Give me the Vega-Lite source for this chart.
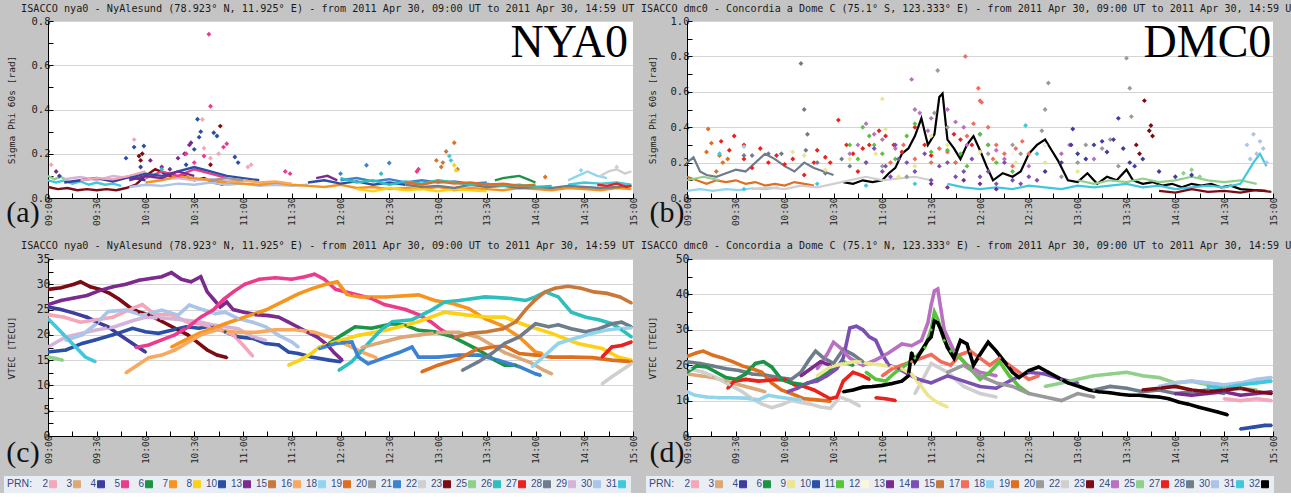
{
"$schema":"https://vega.github.io/schema/vega-lite/v6.json",
"background":"#c4c4c4",
"padding":{"left":4,"top":3,"right":0,"bottom":0},
"config":{
"view":{"fill":"white","stroke":null},
"axis":{"domainColor":"#000","tickColor":"#000","labelFont":"DejaVu Sans Mono","labelColor":"#222","labelFontSize":10.5,"labelOverlap":false,"titleFont":"DejaVu Sans Mono","titleFontWeight":"normal","titleColor":"#222","titleFontSize":9.5,"gridColor":"#d4d4d4"},
"title":{"anchor":"start","font":"DejaVu Sans Mono","fontWeight":"normal","color":"#1a1a1a","offset":2,"frame":"group"},
"legend":{"labelFont":"Liberation Sans","labelFontSize":10,"labelColor":"#3a4a80","titleFont":"Liberation Sans","titleFontSize":10.5,"titleFontWeight":"normal","titleColor":"#3a4a80","symbolType":"square","symbolSize":49,"columnPadding":2,"labelOffset":2,"fillColor":"#e9eef4","padding":3,"titlePadding":4}
},
"datasets":{
"aL":[
{"s":23,"t":540,"v":0.05},{"s":23,"t":546,"v":0.04},{"s":23,"t":552,"v":0.045},{"s":23,"t":558,"v":0.035},{"s":23,"t":564,"v":0.04},{"s":23,"t":570,"v":0.035},{"s":23,"t":576,"v":0.04},{"s":23,"t":582,"v":0.035},{"s":23,"t":588,"v":0.045},{"s":23,"t":594,"v":0.06},{"s":23,"t":600,"v":0.1},{"s":23,"t":606,"v":0.13},{"s":23,"t":612,"v":0.11},{"s":23,"t":618,"v":0.09},{"s":23,"t":624,"v":0.1},{"s":23,"t":630,"v":0.08},{"s":23,"t":636,"v":0.09},{"s":23,"t":642,"v":0.07},{"s":23,"t":648,"v":0.06},
{"s":31,"t":540,"v":0.08},{"s":31,"t":545,"v":0.07},{"s":31,"t":550,"v":0.08},{"s":31,"t":555,"v":0.065},{"s":31,"t":560,"v":0.075},{"s":31,"t":565,"v":0.06},{"s":31,"t":570,"v":0.07},{"s":31,"t":575,"v":0.06},{"s":31,"t":580,"v":0.065},{"s":31,"t":585,"v":0.055},
{"s":31,"g":2,"t":860,"v":0.06},{"s":31,"g":2,"t":870,"v":0.07},{"s":31,"g":2,"t":880,"v":0.065},{"s":31,"g":2,"t":890,"v":0.07},{"s":31,"g":2,"t":899,"v":0.06},
{"s":25,"t":540,"v":0.1},{"s":25,"t":544,"v":0.085},{"s":25,"t":548,"v":0.095},{"s":25,"t":552,"v":0.08},
{"s":29,"t":550,"v":0.085},{"s":29,"t":560,"v":0.095},{"s":29,"t":570,"v":0.08},{"s":29,"t":580,"v":0.1},{"s":29,"t":590,"v":0.09},{"s":29,"t":600,"v":0.1},{"s":29,"t":610,"v":0.085},{"s":29,"t":620,"v":0.09},{"s":29,"t":630,"v":0.08},{"s":29,"t":640,"v":0.085},{"s":29,"t":650,"v":0.075},{"s":29,"t":660,"v":0.08},
{"s":4,"t":550,"v":0.07},{"s":4,"t":560,"v":0.08},{"s":4,"t":570,"v":0.09},{"s":4,"t":580,"v":0.075},{"s":4,"t":590,"v":0.095},{"s":4,"t":600,"v":0.08},
{"s":2,"t":560,"v":0.08},{"s":2,"t":570,"v":0.09},{"s":2,"t":580,"v":0.085},{"s":2,"t":590,"v":0.1},{"s":2,"t":600,"v":0.12},
{"s":30,"t":590,"v":0.05},{"s":30,"t":600,"v":0.06},{"s":30,"t":610,"v":0.055},{"s":30,"t":620,"v":0.065},{"s":30,"t":630,"v":0.06},{"s":30,"t":640,"v":0.07},{"s":30,"t":650,"v":0.06},{"s":30,"t":660,"v":0.065},{"s":30,"t":670,"v":0.055},{"s":30,"t":680,"v":0.06},{"s":30,"t":690,"v":0.055},{"s":30,"t":700,"v":0.06},
{"s":7,"t":600,"v":0.07},{"s":7,"t":610,"v":0.08},{"s":7,"t":620,"v":0.1},{"s":7,"t":630,"v":0.09},{"s":7,"t":640,"v":0.08},{"s":7,"t":650,"v":0.07},{"s":7,"t":660,"v":0.065},{"s":7,"t":670,"v":0.06},{"s":7,"t":680,"v":0.07},{"s":7,"t":690,"v":0.06},{"s":7,"t":700,"v":0.055},{"s":7,"t":710,"v":0.05},{"s":7,"t":720,"v":0.06},{"s":7,"t":730,"v":0.045},{"s":7,"t":740,"v":0.05},{"s":7,"t":750,"v":0.04},{"s":7,"t":760,"v":0.045},{"s":7,"t":770,"v":0.04},{"s":7,"t":780,"v":0.05},{"s":7,"t":790,"v":0.035},{"s":7,"t":800,"v":0.045},{"s":7,"t":810,"v":0.04},{"s":7,"t":820,"v":0.035},{"s":7,"t":830,"v":0.045},{"s":7,"t":840,"v":0.04},{"s":7,"t":850,"v":0.035},{"s":7,"t":860,"v":0.045},{"s":7,"t":870,"v":0.04},{"s":7,"t":880,"v":0.035},{"s":7,"t":890,"v":0.045},{"s":7,"t":899,"v":0.04},
{"s":5,"t":600,"v":0.09},{"s":5,"t":610,"v":0.12},{"s":5,"t":620,"v":0.1},{"s":5,"t":630,"v":0.13},{"s":5,"t":640,"v":0.11},{"s":5,"t":650,"v":0.09},
{"s":10,"t":590,"v":0.09},{"s":10,"t":600,"v":0.11},{"s":10,"t":610,"v":0.1},{"s":10,"t":620,"v":0.12},{"s":10,"t":630,"v":0.14},{"s":10,"t":640,"v":0.12},{"s":10,"t":650,"v":0.1},{"s":10,"t":660,"v":0.09},{"s":10,"t":670,"v":0.08},
{"s":10,"g":2,"t":700,"v":0.07},{"s":10,"g":2,"t":710,"v":0.08},{"s":10,"g":2,"t":720,"v":0.065},{"s":10,"g":2,"t":730,"v":0.075},{"s":10,"g":2,"t":740,"v":0.06},{"s":10,"g":2,"t":750,"v":0.07},{"s":10,"g":2,"t":760,"v":0.06},
{"s":13,"t":590,"v":0.08},{"s":13,"t":600,"v":0.1},{"s":13,"t":610,"v":0.09},{"s":13,"t":620,"v":0.12},{"s":13,"t":630,"v":0.1},
{"s":13,"g":2,"t":705,"v":0.09},{"s":13,"g":2,"t":712,"v":0.1},{"s":13,"g":2,"t":718,"v":0.08},
{"s":16,"t":650,"v":0.07},{"s":16,"t":660,"v":0.08},{"s":16,"t":670,"v":0.07},{"s":16,"t":680,"v":0.075},{"s":16,"t":690,"v":0.065},
{"s":20,"t":640,"v":0.08},{"s":20,"t":650,"v":0.09},{"s":20,"t":660,"v":0.08},
{"s":21,"t":720,"v":0.08},{"s":21,"t":730,"v":0.09},{"s":21,"t":740,"v":0.075},{"s":21,"t":750,"v":0.085},{"s":21,"t":760,"v":0.07},{"s":21,"t":770,"v":0.08},{"s":21,"t":780,"v":0.07},{"s":21,"t":790,"v":0.075},{"s":21,"t":800,"v":0.065},{"s":21,"t":810,"v":0.07},
{"s":8,"t":730,"v":0.04},{"s":8,"t":740,"v":0.03},{"s":8,"t":750,"v":0.045},{"s":8,"t":760,"v":0.035},{"s":8,"t":770,"v":0.04},{"s":8,"t":780,"v":0.03},{"s":8,"t":790,"v":0.04},{"s":8,"t":800,"v":0.035},{"s":8,"t":810,"v":0.03},
{"s":28,"t":760,"v":0.06},{"s":28,"t":770,"v":0.05},{"s":28,"t":780,"v":0.055},{"s":28,"t":790,"v":0.045},{"s":28,"t":800,"v":0.06},{"s":28,"t":810,"v":0.05},{"s":28,"t":820,"v":0.055},{"s":28,"t":830,"v":0.045},{"s":28,"t":840,"v":0.05},{"s":28,"t":850,"v":0.045},{"s":28,"t":860,"v":0.055},{"s":28,"t":870,"v":0.05},{"s":28,"t":880,"v":0.045},{"s":28,"t":890,"v":0.05},{"s":28,"t":899,"v":0.055},
{"s":26,"t":720,"v":0.09},{"s":26,"t":730,"v":0.07},{"s":26,"t":740,"v":0.08},{"s":26,"t":750,"v":0.06},{"s":26,"t":760,"v":0.075},{"s":26,"t":770,"v":0.065},{"s":26,"t":780,"v":0.08},{"s":26,"t":790,"v":0.07},{"s":26,"t":800,"v":0.06},{"s":26,"t":810,"v":0.065},{"s":26,"t":820,"v":0.055},{"s":26,"t":830,"v":0.06},{"s":26,"t":840,"v":0.05},{"s":26,"t":850,"v":0.055},
{"s":19,"t":760,"v":0.07},{"s":19,"t":770,"v":0.06},{"s":19,"t":780,"v":0.075},{"s":19,"t":790,"v":0.065},{"s":19,"t":800,"v":0.07},{"s":19,"t":810,"v":0.06},{"s":19,"t":820,"v":0.065},{"s":19,"t":830,"v":0.055},{"s":19,"t":840,"v":0.06},
{"s":6,"t":815,"v":0.08},{"s":6,"t":820,"v":0.09},{"s":6,"t":825,"v":0.095},{"s":6,"t":830,"v":0.1},{"s":6,"t":835,"v":0.085},{"s":6,"t":840,"v":0.07},
{"s":18,"t":860,"v":0.08},{"s":18,"t":866,"v":0.1},{"s":18,"t":872,"v":0.12},{"s":18,"t":878,"v":0.1},{"s":18,"t":884,"v":0.09},
{"s":22,"t":880,"v":0.1},{"s":22,"t":885,"v":0.12},{"s":22,"t":890,"v":0.13},{"s":22,"t":895,"v":0.11},{"s":22,"t":899,"v":0.12},
{"s":27,"t":878,"v":0.06},{"s":27,"t":884,"v":0.055},{"s":27,"t":890,"v":0.065},{"s":27,"t":896,"v":0.05},{"s":27,"t":899,"v":0.055}
],
"aP":[
{"s":5,"t":639,"v":0.74},{"s":5,"t":640,"v":0.415},{"s":10,"t":632,"v":0.356},{"s":2,"t":635,"v":0.355},{"s":10,"t":634,"v":0.3},{"s":10,"t":633,"v":0.275},{"s":10,"t":642,"v":0.295},{"s":10,"t":644,"v":0.28},{"s":23,"t":646,"v":0.325},{"s":13,"t":628,"v":0.25},{"s":13,"t":627,"v":0.24},{"s":13,"t":624,"v":0.2},{"s":5,"t":650,"v":0.245},{"s":5,"t":648,"v":0.23},{"s":2,"t":636,"v":0.225},{"s":10,"t":630,"v":0.22},{"s":13,"t":620,"v":0.18},{"s":2,"t":593,"v":0.264},{"s":10,"t":593,"v":0.23},{"s":10,"t":599,"v":0.235},{"s":10,"t":588,"v":0.18},{"s":23,"t":598,"v":0.2},{"s":23,"t":596,"v":0.19},{"s":23,"t":597,"v":0.17},{"s":2,"t":665,"v":0.15},{"s":2,"t":663,"v":0.14},{"s":5,"t":686,"v":0.12},{"s":5,"t":689,"v":0.11},{"s":10,"t":655,"v":0.185},{"s":10,"t":657,"v":0.16},{"s":13,"t":603,"v":0.17},{"s":5,"t":625,"v":0.2},{"s":5,"t":630,"v":0.16},{"s":2,"t":640,"v":0.18},{"s":23,"t":640,"v":0.15},{"s":4,"t":597,"v":0.14},{"s":13,"t":610,"v":0.14},{"s":2,"t":542,"v":0.15},{"s":13,"t":615,"v":0.13},{"s":5,"t":636,"v":0.19},{"s":2,"t":645,"v":0.2},{"s":10,"t":625,"v":0.15},
{"s":15,"t":790,"v":0.25},{"s":15,"t":785,"v":0.21},{"s":15,"t":779,"v":0.17},{"s":15,"t":783,"v":0.16},{"s":15,"t":782,"v":0.14},{"s":15,"t":792,"v":0.13},{"s":31,"t":787,"v":0.19},{"s":31,"t":788,"v":0.17},{"s":8,"t":790,"v":0.148},{"s":8,"t":791,"v":0.125},{"s":21,"t":736,"v":0.148},{"s":21,"t":750,"v":0.158},{"s":5,"t":768,"v":0.13},{"s":5,"t":767,"v":0.12},{"s":19,"t":846,"v":0.095},{"s":26,"t":610,"v":0.13},{"s":21,"t":720,"v":0.11},{"s":22,"t":890,"v":0.14},{"s":18,"t":868,"v":0.125},{"s":26,"t":745,"v":0.11},{"s":13,"t":545,"v":0.12},{"s":4,"t":547,"v":0.1}
],
"bL":[
{"s":32,"t":636,"v":0.09},{"s":32,"t":642,"v":0.08},{"s":32,"t":648,"v":0.1},{"s":32,"t":654,"v":0.09},{"s":32,"t":660,"v":0.1},{"s":32,"t":664,"v":0.14},{"s":32,"t":668,"v":0.17},{"s":32,"t":672,"v":0.25},{"s":32,"t":676,"v":0.28},{"s":32,"t":680,"v":0.35},{"s":32,"t":684,"v":0.45},{"s":32,"t":688,"v":0.3},{"s":32,"t":692,"v":0.36},{"s":32,"t":695,"v":0.57},{"s":32,"t":697,"v":0.59},{"s":32,"t":700,"v":0.33},{"s":32,"t":704,"v":0.28},{"s":32,"t":708,"v":0.22},{"s":32,"t":712,"v":0.3},{"s":32,"t":716,"v":0.35},{"s":32,"t":720,"v":0.27},{"s":32,"t":724,"v":0.18},{"s":32,"t":728,"v":0.1},{"s":32,"t":734,"v":0.14},{"s":32,"t":740,"v":0.12},{"s":32,"t":745,"v":0.15},{"s":32,"t":750,"v":0.25},{"s":32,"t":755,"v":0.3},{"s":32,"t":760,"v":0.33},{"s":32,"t":764,"v":0.27},{"s":32,"t":768,"v":0.21},{"s":32,"t":774,"v":0.1},{"s":32,"t":780,"v":0.09},{"s":32,"t":786,"v":0.14},{"s":32,"t":792,"v":0.08},{"s":32,"t":798,"v":0.12},{"s":32,"t":804,"v":0.1},{"s":32,"t":810,"v":0.16},{"s":32,"t":814,"v":0.1},{"s":32,"t":820,"v":0.08},{"s":32,"t":826,"v":0.09},{"s":32,"t":832,"v":0.07},{"s":32,"t":838,"v":0.08},{"s":32,"t":844,"v":0.06},{"s":32,"t":850,"v":0.08},{"s":32,"t":856,"v":0.07},{"s":32,"t":862,"v":0.08},{"s":32,"t":868,"v":0.06},{"s":32,"t":874,"v":0.07},{"s":32,"t":880,"v":0.05},{"s":32,"t":888,"v":0.045},{"s":32,"t":896,"v":0.04},
{"s":18,"t":540,"v":0.04},{"s":18,"t":548,"v":0.05},{"s":18,"t":556,"v":0.04},{"s":18,"t":564,"v":0.05},{"s":18,"t":572,"v":0.045},{"s":18,"t":580,"v":0.055},{"s":18,"t":588,"v":0.05},{"s":18,"t":596,"v":0.06},
{"s":19,"t":540,"v":0.12},{"s":19,"t":546,"v":0.1},{"s":19,"t":552,"v":0.08},{"s":19,"t":558,"v":0.1},{"s":19,"t":564,"v":0.09},{"s":19,"t":570,"v":0.1},{"s":19,"t":576,"v":0.08},{"s":19,"t":582,"v":0.09},{"s":19,"t":588,"v":0.07},{"s":19,"t":594,"v":0.08},{"s":19,"t":600,"v":0.07},{"s":19,"t":606,"v":0.09},{"s":19,"t":612,"v":0.08},{"s":19,"t":618,"v":0.07},
{"s":28,"t":540,"v":0.2},{"s":28,"t":544,"v":0.23},{"s":28,"t":548,"v":0.15},{"s":28,"t":552,"v":0.13},{"s":28,"t":558,"v":0.12},{"s":28,"t":564,"v":0.14},{"s":28,"t":570,"v":0.16},{"s":28,"t":576,"v":0.15},{"s":28,"t":582,"v":0.2},{"s":28,"t":588,"v":0.25},{"s":28,"t":594,"v":0.22},{"s":28,"t":600,"v":0.18},{"s":28,"t":606,"v":0.15},{"s":28,"t":612,"v":0.2},{"s":28,"t":618,"v":0.17},{"s":28,"t":624,"v":0.15},{"s":28,"t":630,"v":0.13},
{"s":22,"t":580,"v":0.05},{"s":22,"t":590,"v":0.06},{"s":22,"t":600,"v":0.05},{"s":22,"t":610,"v":0.07},{"s":22,"t":620,"v":0.06},{"s":22,"t":630,"v":0.08},{"s":22,"t":640,"v":0.1},{"s":22,"t":650,"v":0.12},{"s":22,"t":660,"v":0.1},{"s":22,"t":670,"v":0.11},{"s":22,"t":680,"v":0.12},{"s":22,"t":690,"v":0.1},
{"s":25,"t":540,"v":0.1},{"s":25,"t":550,"v":0.12},{"s":25,"t":560,"v":0.1},
{"s":25,"g":2,"t":780,"v":0.1},{"s":25,"g":2,"t":790,"v":0.08},{"s":25,"g":2,"t":800,"v":0.1},{"s":25,"g":2,"t":810,"v":0.09},{"s":25,"g":2,"t":820,"v":0.11},{"s":25,"g":2,"t":830,"v":0.09},{"s":25,"g":2,"t":840,"v":0.1},{"s":25,"g":2,"t":850,"v":0.12},{"s":25,"g":2,"t":860,"v":0.1},{"s":25,"g":2,"t":870,"v":0.09},{"s":25,"g":2,"t":880,"v":0.1},{"s":25,"g":2,"t":890,"v":0.08},
{"s":31,"t":700,"v":0.08},{"s":31,"t":710,"v":0.06},{"s":31,"t":720,"v":0.05},{"s":31,"t":730,"v":0.06},{"s":31,"t":740,"v":0.05},{"s":31,"t":750,"v":0.07},{"s":31,"t":760,"v":0.06},{"s":31,"t":770,"v":0.05},{"s":31,"t":780,"v":0.07},{"s":31,"t":790,"v":0.06},{"s":31,"t":800,"v":0.07},{"s":31,"t":810,"v":0.08},{"s":31,"t":820,"v":0.06},{"s":31,"t":830,"v":0.07},{"s":31,"t":840,"v":0.05},{"s":31,"t":850,"v":0.06},{"s":31,"t":860,"v":0.07},{"s":31,"t":870,"v":0.06},{"s":31,"t":880,"v":0.08},{"s":31,"t":888,"v":0.2},{"s":31,"t":892,"v":0.25},{"s":31,"t":896,"v":0.18},
{"s":23,"t":830,"v":0.04},{"s":23,"t":840,"v":0.03},{"s":23,"t":850,"v":0.05},{"s":23,"t":860,"v":0.035},{"s":23,"t":870,"v":0.04},{"s":23,"t":880,"v":0.03},{"s":23,"t":890,"v":0.045},{"s":23,"t":899,"v":0.035}
],
"bP":[
{"s":27,"t":561,"v":0.32},{"s":27,"t":569,"v":0.35},{"s":27,"t":566,"v":0.27},{"s":27,"t":575,"v":0.22},{"s":27,"t":580,"v":0.17},{"s":27,"t":590,"v":0.2},{"s":27,"t":595,"v":0.24},{"s":27,"t":600,"v":0.19},{"s":27,"t":605,"v":0.22},{"s":27,"t":612,"v":0.13},{"s":27,"t":618,"v":0.2},{"s":27,"t":625,"v":0.23},{"s":27,"t":633,"v":0.44},{"s":27,"t":638,"v":0.3},{"s":27,"t":642,"v":0.25},{"s":27,"t":648,"v":0.28},{"s":27,"t":652,"v":0.3},{"s":27,"t":658,"v":0.38},{"s":27,"t":662,"v":0.35},{"s":27,"t":667,"v":0.3},{"s":27,"t":672,"v":0.26},{"s":27,"t":680,"v":0.4},{"s":27,"t":686,"v":0.3},{"s":27,"t":704,"v":0.36},{"s":27,"t":708,"v":0.33},{"s":27,"t":715,"v":0.3},
{"s":27,"t":575,"v":0.3},{"s":27,"t":585,"v":0.28},{"s":27,"t":620,"v":0.27},{"s":27,"t":628,"v":0.2},{"s":27,"t":645,"v":0.15},{"s":27,"t":690,"v":0.24},
{"s":19,"t":553,"v":0.39},{"s":19,"t":552,"v":0.26},{"s":19,"t":555,"v":0.31},{"s":19,"t":560,"v":0.24},{"s":19,"t":562,"v":0.2},{"s":19,"t":565,"v":0.22},{"s":19,"t":558,"v":0.15},
{"s":28,"t":610,"v":0.76},{"s":28,"t":612,"v":0.5},{"s":28,"t":614,"v":0.36},{"s":28,"t":613,"v":0.27},{"s":28,"t":590,"v":0.25},{"s":28,"t":598,"v":0.25},{"s":28,"t":620,"v":0.2},{"s":28,"t":640,"v":0.18},{"s":28,"t":650,"v":0.2},{"s":28,"t":575,"v":0.24},{"s":28,"t":580,"v":0.24},{"s":28,"t":625,"v":0.14},{"s":28,"t":635,"v":0.22},
{"s":9,"t":660,"v":0.56},{"s":9,"t":662,"v":0.39},{"s":9,"t":605,"v":0.26},{"s":9,"t":612,"v":0.24},{"s":9,"t":650,"v":0.2},{"s":9,"t":656,"v":0.25},{"s":9,"t":670,"v":0.12},{"s":9,"t":690,"v":0.35},{"s":9,"t":700,"v":0.3},{"s":9,"t":742,"v":0.2},{"s":9,"t":625,"v":0.16},{"s":9,"t":640,"v":0.22},{"s":9,"t":680,"v":0.18},{"s":9,"t":760,"v":0.2},{"s":9,"t":780,"v":0.15},{"s":9,"t":720,"v":0.26},
{"s":24,"t":678,"v":0.67},{"s":24,"t":680,"v":0.5},{"s":24,"t":683,"v":0.48},{"s":24,"t":690,"v":0.45},{"s":24,"t":700,"v":0.5},{"s":24,"t":705,"v":0.43},{"s":24,"t":710,"v":0.4},{"s":24,"t":720,"v":0.36},{"s":24,"t":725,"v":0.3},{"s":24,"t":730,"v":0.27},{"s":24,"t":650,"v":0.42},{"s":24,"t":655,"v":0.36},{"s":24,"t":645,"v":0.3},{"s":24,"t":640,"v":0.25},{"s":24,"t":760,"v":0.3},{"s":24,"t":770,"v":0.25},{"s":24,"t":660,"v":0.33},{"s":24,"t":668,"v":0.28},{"s":24,"t":688,"v":0.38},{"s":24,"t":712,"v":0.3},{"s":24,"t":735,"v":0.22},{"s":24,"t":750,"v":0.18},{"s":24,"t":775,"v":0.3},{"s":24,"t":790,"v":0.22},
{"s":20,"t":694,"v":0.72},{"s":20,"t":692,"v":0.48},{"s":20,"t":700,"v":0.4},{"s":20,"t":762,"v":0.65},{"s":20,"t":760,"v":0.5},{"s":20,"t":758,"v":0.38},{"s":20,"t":810,"v":0.79},{"s":20,"t":812,"v":0.62},{"s":20,"t":813,"v":0.46},{"s":20,"t":800,"v":0.33},{"s":20,"t":795,"v":0.28},{"s":20,"t":780,"v":0.2},{"s":20,"t":785,"v":0.3},{"s":20,"t":740,"v":0.3},{"s":20,"t":745,"v":0.25},{"s":20,"t":660,"v":0.18},{"s":20,"t":675,"v":0.12},{"s":20,"t":705,"v":0.2},{"s":20,"t":725,"v":0.25},{"s":20,"t":770,"v":0.12},{"s":20,"t":805,"v":0.18},
{"s":17,"t":711,"v":0.8},{"s":17,"t":719,"v":0.62},{"s":17,"t":720,"v":0.55},{"s":17,"t":721,"v":0.54},{"s":17,"t":716,"v":0.42},{"s":17,"t":712,"v":0.35},{"s":17,"t":725,"v":0.4},{"s":17,"t":730,"v":0.3},{"s":17,"t":735,"v":0.25},{"s":17,"t":740,"v":0.18},{"s":17,"t":746,"v":0.32},{"s":17,"t":750,"v":0.25},{"s":17,"t":700,"v":0.26},{"s":17,"t":690,"v":0.2},{"s":17,"t":680,"v":0.22},{"s":17,"t":665,"v":0.2},{"s":17,"t":673,"v":0.3},{"s":17,"t":695,"v":0.28},{"s":17,"t":705,"v":0.2},{"s":17,"t":728,"v":0.22},{"s":17,"t":742,"v":0.28},
{"s":23,"t":821,"v":0.55},{"s":23,"t":825,"v":0.41},{"s":23,"t":824,"v":0.38},{"s":23,"t":826,"v":0.35},{"s":23,"t":816,"v":0.3},{"s":23,"t":818,"v":0.25},
{"s":4,"t":805,"v":0.45},{"s":4,"t":802,"v":0.33},{"s":4,"t":777,"v":0.39},{"s":4,"t":790,"v":0.3},{"s":4,"t":795,"v":0.32},{"s":4,"t":808,"v":0.28},{"s":4,"t":780,"v":0.25},{"s":4,"t":770,"v":0.2},{"s":4,"t":760,"v":0.15},{"s":4,"t":812,"v":0.2},{"s":4,"t":830,"v":0.15},{"s":4,"t":840,"v":0.12},{"s":4,"t":850,"v":0.13},{"s":4,"t":776,"v":0.3},{"s":4,"t":785,"v":0.22},{"s":4,"t":798,"v":0.26},{"s":4,"t":815,"v":0.18},{"s":4,"t":820,"v":0.22},
{"s":11,"t":648,"v":0.4},{"s":11,"t":652,"v":0.35},{"s":11,"t":640,"v":0.3},{"s":11,"t":660,"v":0.25},{"s":11,"t":675,"v":0.35},{"s":11,"t":680,"v":0.42},{"s":11,"t":700,"v":0.27},{"s":11,"t":708,"v":0.25},{"s":11,"t":720,"v":0.36},{"s":11,"t":725,"v":0.3},{"s":11,"t":730,"v":0.2},{"s":11,"t":645,"v":0.22},{"s":11,"t":655,"v":0.3},{"s":11,"t":668,"v":0.22},{"s":11,"t":690,"v":0.26},{"s":11,"t":712,"v":0.18},{"s":11,"t":740,"v":0.15},
{"s":30,"t":884,"v":0.3},{"s":30,"t":888,"v":0.36},{"s":30,"t":892,"v":0.32},{"s":30,"t":890,"v":0.25},{"s":30,"t":886,"v":0.22},{"s":30,"t":894,"v":0.28},{"s":30,"t":896,"v":0.2},
{"s":14,"t":650,"v":0.2},{"s":14,"t":660,"v":0.15},{"s":14,"t":665,"v":0.12},{"s":14,"t":670,"v":0.22},{"s":14,"t":680,"v":0.15},{"s":14,"t":690,"v":0.1},{"s":14,"t":700,"v":0.2},{"s":14,"t":710,"v":0.15},{"s":14,"t":720,"v":0.12},{"s":14,"t":730,"v":0.08},{"s":14,"t":740,"v":0.1},{"s":14,"t":750,"v":0.12},{"s":14,"t":655,"v":0.28},{"s":14,"t":662,"v":0.18},{"s":14,"t":668,"v":0.3},{"s":14,"t":675,"v":0.2},{"s":14,"t":686,"v":0.25},{"s":14,"t":695,"v":0.18},{"s":14,"t":705,"v":0.12},{"s":14,"t":715,"v":0.22},{"s":14,"t":725,"v":0.15},{"s":14,"t":735,"v":0.2},{"s":14,"t":745,"v":0.08},{"s":14,"t":755,"v":0.1},
{"s":13,"t":700,"v":0.06},{"s":13,"t":710,"v":0.1},{"s":13,"t":720,"v":0.08},{"s":13,"t":730,"v":0.05},{"s":13,"t":690,"v":0.08},
{"s":12,"t":740,"v":0.25},{"s":12,"t":760,"v":0.3},{"s":12,"t":780,"v":0.28},
{"s":31,"t":748,"v":0.41},{"s":31,"t":755,"v":0.25},{"s":31,"t":560,"v":0.25},{"s":31,"t":575,"v":0.05},{"s":31,"t":620,"v":0.08},{"s":31,"t":650,"v":0.07},{"s":31,"t":680,"v":0.08},
{"s":18,"t":575,"v":0.29},
{"s":25,"t":845,"v":0.14},{"s":25,"t":850,"v":0.16},{"s":25,"t":855,"v":0.12}
],
"c":[
{"s":23,"t":540,"v":29},{"s":23,"t":548,"v":29.3},{"s":23,"t":556,"v":30},{"s":23,"t":560,"v":30.5},{"s":23,"t":566,"v":29.5},{"s":23,"t":572,"v":29},{"s":23,"t":578,"v":28.2},{"s":23,"t":584,"v":27},{"s":23,"t":590,"v":25.5},{"s":23,"t":596,"v":24.5},{"s":23,"t":602,"v":24},{"s":23,"t":608,"v":23},{"s":23,"t":614,"v":22},{"s":23,"t":620,"v":21},{"s":23,"t":626,"v":20},{"s":23,"t":632,"v":18.5},{"s":23,"t":638,"v":17},{"s":23,"t":644,"v":16},{"s":23,"t":650,"v":15.5},
{"s":13,"t":540,"v":26},{"s":13,"t":548,"v":26.8},{"s":13,"t":556,"v":27.3},{"s":13,"t":564,"v":27.8},{"s":13,"t":572,"v":28.8},{"s":13,"t":580,"v":29.5},{"s":13,"t":588,"v":30},{"s":13,"t":596,"v":30.8},{"s":13,"t":604,"v":31.2},{"s":13,"t":610,"v":31.5},{"s":13,"t":616,"v":32.3},{"s":13,"t":622,"v":31},{"s":13,"t":628,"v":30.5},{"s":13,"t":634,"v":31.5},{"s":13,"t":638,"v":28.5},{"s":13,"t":642,"v":27},{"s":13,"t":646,"v":25.5},{"s":13,"t":650,"v":26.5},{"s":13,"t":654,"v":25},{"s":13,"t":660,"v":24.5},{"s":13,"t":668,"v":24},{"s":13,"t":676,"v":23.8},{"s":13,"t":682,"v":23.5},{"s":13,"t":688,"v":22.5},{"s":13,"t":694,"v":21.5},{"s":13,"t":700,"v":20.5},{"s":13,"t":706,"v":19.5},{"s":13,"t":712,"v":18},{"s":13,"t":716,"v":16.5},{"s":13,"t":721,"v":15},
{"s":4,"t":540,"v":25.5},{"s":4,"t":548,"v":25},{"s":4,"t":556,"v":24.3},{"s":4,"t":564,"v":23.5},{"s":4,"t":570,"v":22.5},{"s":4,"t":577,"v":21.6},{"s":4,"t":584,"v":20},{"s":4,"t":592,"v":18.3},{"s":4,"t":600,"v":16.6},
{"s":10,"t":540,"v":16.6},{"s":10,"t":551,"v":17},{"s":10,"t":561,"v":18.3},{"s":10,"t":569,"v":19},{"s":10,"t":580,"v":20},{"s":10,"t":592,"v":21.3},{"s":10,"t":600,"v":20.6},{"s":10,"t":608,"v":20.3},{"s":10,"t":616,"v":20.9},{"s":10,"t":625,"v":21.6},{"s":10,"t":633,"v":21.3},{"s":10,"t":641,"v":21.8},{"s":10,"t":649,"v":20.6},{"s":10,"t":657,"v":19.6},{"s":10,"t":666,"v":19.3},{"s":10,"t":674,"v":18.3},{"s":10,"t":682,"v":18},{"s":10,"t":688,"v":16.6},{"s":10,"t":694,"v":16.3},{"s":10,"t":702,"v":15.6},{"s":10,"t":713,"v":15},{"s":10,"t":720,"v":14.7},
{"s":2,"t":540,"v":24},{"s":2,"t":550,"v":23.5},{"s":2,"t":560,"v":22.5},{"s":2,"t":570,"v":23},{"s":2,"t":580,"v":23.5},{"s":2,"t":590,"v":25},{"s":2,"t":598,"v":26},{"s":2,"t":606,"v":24},{"s":2,"t":616,"v":24},{"s":2,"t":626,"v":22.5},{"s":2,"t":636,"v":22},{"s":2,"t":646,"v":21},{"s":2,"t":654,"v":20},{"s":2,"t":660,"v":18},{"s":2,"t":666,"v":15.8},
{"s":29,"t":540,"v":17.6},{"s":29,"t":551,"v":19.6},{"s":29,"t":569,"v":20.9},{"s":29,"t":581,"v":21.6},{"s":29,"t":592,"v":22.8},{"s":29,"t":600,"v":23.5},{"s":29,"t":616,"v":23.2},{"s":29,"t":633,"v":22.6},{"s":29,"t":641,"v":22},{"s":29,"t":657,"v":21.2},{"s":29,"t":666,"v":19.6},{"s":29,"t":674,"v":18.9},
{"s":30,"t":551,"v":18.9},{"s":30,"t":561,"v":20},{"s":30,"t":569,"v":22},{"s":30,"t":577,"v":24.6},{"s":30,"t":588,"v":24.9},{"s":30,"t":598,"v":23.9},{"s":30,"t":610,"v":24.9},{"s":30,"t":620,"v":23.9},{"s":30,"t":627,"v":25.9},{"s":30,"t":633,"v":25.2},{"s":30,"t":643,"v":24.2},{"s":30,"t":649,"v":24.5},{"s":30,"t":657,"v":23.2},{"s":30,"t":666,"v":22.5},{"s":30,"t":674,"v":21.6},{"s":30,"t":682,"v":19.9},{"s":30,"t":690,"v":18.6},{"s":30,"t":694,"v":17.6},
{"s":31,"t":540,"v":23.2},{"s":31,"t":545,"v":21.6},{"s":31,"t":551,"v":19.6},{"s":31,"t":557,"v":17.6},{"s":31,"t":563,"v":15.6},{"s":31,"t":569,"v":14.7},
{"s":25,"t":540,"v":15.6},{"s":25,"t":545,"v":15.3},{"s":25,"t":549,"v":15},
{"s":5,"t":594,"v":17.5},{"s":5,"t":602,"v":18},{"s":5,"t":610,"v":19},{"s":5,"t":618,"v":20},{"s":5,"t":626,"v":21.5},{"s":5,"t":634,"v":23.5},{"s":5,"t":642,"v":25},{"s":5,"t":648,"v":27},{"s":5,"t":654,"v":28.5},{"s":5,"t":661,"v":30},{"s":5,"t":670,"v":31},{"s":5,"t":680,"v":31.3},{"s":5,"t":690,"v":31},{"s":5,"t":698,"v":31.5},{"s":5,"t":704,"v":32},{"s":5,"t":710,"v":31},{"s":5,"t":717,"v":29},{"s":5,"t":727,"v":28.2},{"s":5,"t":739,"v":27.2},{"s":5,"t":747,"v":26},{"s":5,"t":760,"v":25},{"s":5,"t":768,"v":24},{"s":5,"t":776,"v":22.5},{"s":5,"t":782,"v":21},{"s":5,"t":790,"v":19.5},
{"s":7,"t":616,"v":17.6},{"s":7,"t":624,"v":18.9},{"s":7,"t":633,"v":20.3},{"s":7,"t":641,"v":21.2},{"s":7,"t":649,"v":22.2},{"s":7,"t":661,"v":23.5},{"s":7,"t":674,"v":24.9},{"s":7,"t":686,"v":26.8},{"s":7,"t":694,"v":28.1},{"s":7,"t":702,"v":29.1},{"s":7,"t":711,"v":30},{"s":7,"t":718,"v":30.5},{"s":7,"t":724,"v":28},{"s":7,"t":732,"v":27.5},{"s":7,"t":748,"v":27.5},{"s":7,"t":768,"v":27.9},{"s":7,"t":778,"v":26.8},{"s":7,"t":789,"v":26.2},{"s":7,"t":799,"v":25.2},{"s":7,"t":809,"v":23.2},{"s":7,"t":819,"v":21.9},{"s":7,"t":830,"v":19.6},{"s":7,"t":840,"v":16.6},{"s":7,"t":844,"v":16.3},
{"s":16,"t":588,"v":12.5},{"s":16,"t":595,"v":14},{"s":16,"t":602,"v":15.5},{"s":16,"t":610,"v":16},{"s":16,"t":618,"v":17},{"s":16,"t":626,"v":18.5},{"s":16,"t":634,"v":20},{"s":16,"t":644,"v":21},{"s":16,"t":656,"v":20.5},{"s":16,"t":668,"v":20.5},{"s":16,"t":680,"v":21},{"s":16,"t":692,"v":21},{"s":16,"t":704,"v":20.5},{"s":16,"t":714,"v":19.5},{"s":16,"t":724,"v":18},{"s":16,"t":734,"v":16.5},{"s":16,"t":742,"v":15.5},
{"s":6,"t":713,"v":18.3},{"s":6,"t":721,"v":20},{"s":6,"t":729,"v":21.6},{"s":6,"t":739,"v":21.3},{"s":6,"t":752,"v":22.2},{"s":6,"t":760,"v":21.9},{"s":6,"t":768,"v":20.9},{"s":6,"t":778,"v":20.6},{"s":6,"t":789,"v":19.6},{"s":6,"t":797,"v":18.3},{"s":6,"t":805,"v":17},{"s":6,"t":815,"v":15},{"s":6,"t":821,"v":14},{"s":6,"t":828,"v":14},
{"s":8,"t":688,"v":14},{"s":8,"t":695,"v":15},{"s":8,"t":702,"v":16.3},{"s":8,"t":707,"v":17.6},{"s":8,"t":719,"v":18.8},{"s":8,"t":731,"v":19.9},{"s":8,"t":748,"v":20.9},{"s":8,"t":768,"v":22.6},{"s":8,"t":784,"v":24.5},{"s":8,"t":796,"v":24},{"s":8,"t":809,"v":23.5},{"s":8,"t":821,"v":23.5},{"s":8,"t":834,"v":21.9},{"s":8,"t":850,"v":20.3},{"s":8,"t":866,"v":18.3},{"s":8,"t":881,"v":17.3},{"s":8,"t":891,"v":15.6},{"s":8,"t":899,"v":15},
{"s":26,"t":719,"v":13},{"s":26,"t":727,"v":14.7},{"s":26,"t":737,"v":18.3},{"s":26,"t":745,"v":21},{"s":26,"t":752,"v":22.6},{"s":26,"t":764,"v":23},{"s":26,"t":776,"v":24.9},{"s":26,"t":784,"v":26.5},{"s":26,"t":793,"v":26.8},{"s":26,"t":809,"v":27.5},{"s":26,"t":825,"v":27.2},{"s":26,"t":834,"v":26.8},{"s":26,"t":840,"v":27.5},{"s":26,"t":846,"v":28.5},{"s":26,"t":854,"v":27.5},{"s":26,"t":862,"v":24.5},{"s":26,"t":871,"v":23.5},{"s":26,"t":879,"v":23},{"s":26,"t":887,"v":22.2},{"s":26,"t":893,"v":21},{"s":26,"t":899,"v":19.6},
{"s":21,"t":707,"v":17.3},{"s":21,"t":717,"v":18.3},{"s":21,"t":727,"v":18.6},{"s":21,"t":731,"v":15.6},{"s":21,"t":737,"v":14.3},{"s":21,"t":748,"v":15.6},{"s":21,"t":756,"v":16.5},{"s":21,"t":764,"v":17.6},{"s":21,"t":768,"v":15.6},{"s":21,"t":780,"v":15.6},{"s":21,"t":793,"v":16},{"s":21,"t":805,"v":16},{"s":21,"t":817,"v":15},{"s":21,"t":830,"v":13.7},{"s":21,"t":840,"v":12.3},{"s":21,"t":843,"v":12},
{"s":3,"t":733,"v":17.5},{"s":3,"t":745,"v":18.5},{"s":3,"t":757,"v":19.5},{"s":3,"t":769,"v":20},{"s":3,"t":781,"v":20.5},{"s":3,"t":793,"v":20.5},{"s":3,"t":805,"v":19.5},{"s":3,"t":813,"v":18},{"s":3,"t":821,"v":16.5},{"s":3,"t":829,"v":15.5},{"s":3,"t":837,"v":14.5},{"s":3,"t":845,"v":13},{"s":3,"t":850,"v":12.3},
{"s":15,"t":791,"v":19.6},{"s":15,"t":800,"v":20.3},{"s":15,"t":810,"v":20.6},{"s":15,"t":820,"v":21.2},{"s":15,"t":828,"v":22.6},{"s":15,"t":834,"v":25},{"s":15,"t":840,"v":27},{"s":15,"t":846,"v":28.5},{"s":15,"t":852,"v":29.2},{"s":15,"t":860,"v":29.6},{"s":15,"t":868,"v":29.2},{"s":15,"t":876,"v":28.5},{"s":15,"t":884,"v":28.2},{"s":15,"t":892,"v":27.5},{"s":15,"t":899,"v":26.3},
{"s":19,"t":770,"v":12.7},{"s":19,"t":780,"v":14},{"s":19,"t":793,"v":15.3},{"s":19,"t":803,"v":17},{"s":19,"t":813,"v":17.6},{"s":19,"t":821,"v":17.8},{"s":19,"t":830,"v":16.3},{"s":19,"t":840,"v":16},{"s":19,"t":850,"v":15.6},{"s":19,"t":862,"v":15.6},{"s":19,"t":875,"v":15.5},{"s":19,"t":887,"v":15},{"s":19,"t":899,"v":14.7},
{"s":28,"t":795,"v":13},{"s":28,"t":805,"v":14.7},{"s":28,"t":813,"v":16.3},{"s":28,"t":821,"v":18.3},{"s":28,"t":830,"v":19.6},{"s":28,"t":840,"v":22.2},{"s":28,"t":848,"v":21.6},{"s":28,"t":854,"v":22},{"s":28,"t":862,"v":21.2},{"s":28,"t":871,"v":20.6},{"s":28,"t":879,"v":21.2},{"s":28,"t":887,"v":22.2},{"s":28,"t":893,"v":22.5},{"s":28,"t":899,"v":21.6},
{"s":18,"t":838,"v":13.7},{"s":18,"t":846,"v":16},{"s":18,"t":854,"v":18.3},{"s":18,"t":864,"v":19.3},{"s":18,"t":875,"v":20.3},{"s":18,"t":883,"v":20.9},{"s":18,"t":891,"v":21.2},{"s":18,"t":899,"v":21.4},
{"s":27,"t":881,"v":15.6},{"s":27,"t":887,"v":17.6},{"s":27,"t":893,"v":17.9},{"s":27,"t":899,"v":18.6},
{"s":22,"t":881,"v":10.3},{"s":22,"t":887,"v":11.7},{"s":22,"t":893,"v":13},{"s":22,"t":899,"v":14.3}
],
"d":[
{"s":28,"t":540,"v":21},{"s":28,"t":548,"v":20.5},{"s":28,"t":556,"v":19.8},{"s":28,"t":564,"v":19},{"s":28,"t":572,"v":18.5},{"s":28,"t":580,"v":17.5},{"s":28,"t":588,"v":17.2},{"s":28,"t":596,"v":16.5},{"s":28,"t":604,"v":16},{"s":28,"t":610,"v":18},{"s":28,"t":615,"v":21.5},{"s":28,"t":619,"v":24},{"s":28,"t":624,"v":22},{"s":28,"t":630,"v":20.5},{"s":28,"t":636,"v":24.5},{"s":28,"t":642,"v":23},{"s":28,"t":648,"v":21},
{"s":28,"g":2,"t":790,"v":13},{"s":28,"g":2,"t":800,"v":14},{"s":28,"g":2,"t":810,"v":13.5},{"s":28,"g":2,"t":820,"v":12.5},{"s":28,"g":2,"t":830,"v":13},{"s":28,"g":2,"t":840,"v":12},{"s":28,"g":2,"t":850,"v":12.5},{"s":28,"g":2,"t":860,"v":13},{"s":28,"g":2,"t":870,"v":12},
{"s":19,"t":540,"v":22.5},{"s":19,"t":546,"v":23.5},{"s":19,"t":550,"v":24},{"s":19,"t":556,"v":22.8},{"s":19,"t":562,"v":22},{"s":19,"t":568,"v":21},{"s":19,"t":574,"v":19.8},{"s":19,"t":580,"v":19},{"s":19,"t":586,"v":18},{"s":19,"t":592,"v":15},{"s":19,"t":598,"v":13},{"s":19,"t":604,"v":12},{"s":19,"t":612,"v":10.5},{"s":19,"t":620,"v":10.2},{"s":19,"t":628,"v":9.8},
{"s":3,"t":540,"v":17.5},{"s":3,"t":548,"v":17},{"s":3,"t":556,"v":16.5},{"s":3,"t":564,"v":15.5},{"s":3,"t":572,"v":14.5},{"s":3,"t":580,"v":13.5},{"s":3,"t":588,"v":12.5},
{"s":22,"t":542,"v":19},{"s":22,"t":550,"v":18},{"s":22,"t":558,"v":16.5},{"s":22,"t":566,"v":14.5},{"s":22,"t":574,"v":12.5},{"s":22,"t":580,"v":10.5},{"s":22,"t":586,"v":9},{"s":22,"t":592,"v":8},{"s":22,"t":598,"v":8.8},{"s":22,"t":604,"v":10},{"s":22,"t":610,"v":9.5},{"s":22,"t":616,"v":9},{"s":22,"t":622,"v":8.2},{"s":22,"t":628,"v":7.8},{"s":22,"t":634,"v":11},{"s":22,"t":640,"v":10},{"s":22,"t":646,"v":8.5},
{"s":22,"g":2,"t":680,"v":12},{"s":22,"g":2,"t":686,"v":17},{"s":22,"g":2,"t":690,"v":20.5},{"s":22,"g":2,"t":700,"v":18},{"s":22,"g":2,"t":710,"v":14},{"s":22,"g":2,"t":720,"v":12},{"s":22,"g":2,"t":730,"v":11},
{"s":18,"t":540,"v":12.5},{"s":18,"t":545,"v":11.5},{"s":18,"t":552,"v":11},{"s":18,"t":560,"v":10.8},{"s":18,"t":568,"v":10.8},{"s":18,"t":576,"v":10.7},{"s":18,"t":584,"v":10.2},{"s":18,"t":590,"v":11.5},{"s":18,"t":596,"v":11},{"s":18,"t":604,"v":10.5},{"s":18,"t":610,"v":10.2},
{"s":27,"t":565,"v":13.5},{"s":27,"t":569,"v":15.5},{"s":27,"t":576,"v":16},{"s":27,"t":584,"v":15.5},{"s":27,"t":592,"v":15.8},{"s":27,"t":600,"v":16},{"s":27,"t":606,"v":14.5},{"s":27,"t":612,"v":14},{"s":27,"t":618,"v":13},{"s":27,"t":624,"v":11.5},{"s":27,"t":628,"v":10.5},{"s":27,"t":632,"v":11},{"s":27,"t":636,"v":15.5},{"s":27,"t":642,"v":18},{"s":27,"t":648,"v":17},{"s":27,"t":652,"v":16},
{"s":27,"g":2,"t":656,"v":10.8},{"s":27,"g":2,"t":662,"v":10.5},{"s":27,"g":2,"t":668,"v":10},
{"s":6,"t":540,"v":18},{"s":6,"t":546,"v":19.8},{"s":6,"t":552,"v":19.5},{"s":6,"t":558,"v":18},{"s":6,"t":564,"v":16.5},{"s":6,"t":570,"v":16},{"s":6,"t":576,"v":17.5},{"s":6,"t":582,"v":20.5},{"s":6,"t":587,"v":21},{"s":6,"t":592,"v":19.5},{"s":6,"t":598,"v":16},{"s":6,"t":604,"v":15},{"s":6,"t":612,"v":14.5},{"s":6,"t":620,"v":16},{"s":6,"t":628,"v":18.5},{"s":6,"t":636,"v":21},{"s":6,"t":642,"v":20},
{"s":14,"t":602,"v":12.5},{"s":14,"t":608,"v":13.5},{"s":14,"t":614,"v":15},{"s":14,"t":620,"v":15.5},{"s":14,"t":626,"v":17},{"s":14,"t":632,"v":19},{"s":14,"t":636,"v":22},{"s":14,"t":640,"v":30.5},{"s":14,"t":644,"v":31},{"s":14,"t":648,"v":30},{"s":14,"t":652,"v":28},{"s":14,"t":656,"v":27},{"s":14,"t":660,"v":23},{"s":14,"t":664,"v":20},{"s":14,"t":670,"v":19},{"s":14,"t":676,"v":17.5},{"s":14,"t":682,"v":16},{"s":14,"t":690,"v":15},{"s":14,"t":700,"v":17},{"s":14,"t":710,"v":15.5},{"s":14,"t":720,"v":14},{"s":14,"t":730,"v":13.5},{"s":14,"t":740,"v":16},{"s":14,"t":750,"v":18},{"s":14,"t":760,"v":17.5},{"s":14,"t":770,"v":16},{"s":14,"t":780,"v":15},
{"s":24,"t":620,"v":19},{"s":24,"t":626,"v":23},{"s":24,"t":630,"v":26.5},{"s":24,"t":634,"v":25},{"s":24,"t":640,"v":22},{"s":24,"t":648,"v":20},{"s":24,"t":656,"v":21.5},{"s":24,"t":664,"v":23.5},{"s":24,"t":672,"v":26},{"s":24,"t":678,"v":25.5},{"s":24,"t":684,"v":27},{"s":24,"t":688,"v":32},{"s":24,"t":690,"v":37},{"s":24,"t":692,"v":41},{"s":24,"t":694,"v":41.5},{"s":24,"t":698,"v":30},{"s":24,"t":704,"v":24},{"s":24,"t":712,"v":20},{"s":24,"t":720,"v":18},{"s":24,"t":730,"v":17},
{"s":13,"t":610,"v":17},{"s":13,"t":616,"v":19},{"s":13,"t":622,"v":21},{"s":13,"t":628,"v":20},
{"s":13,"g":2,"t":840,"v":12},{"s":13,"g":2,"t":850,"v":11.5},{"s":13,"g":2,"t":860,"v":12},{"s":13,"g":2,"t":870,"v":12.5},{"s":13,"g":2,"t":880,"v":11.5},{"s":13,"g":2,"t":890,"v":12},{"s":13,"g":2,"t":899,"v":12.5},
{"s":9,"t":620,"v":17},{"s":9,"t":628,"v":19.5},{"s":9,"t":636,"v":20.5},{"s":9,"t":644,"v":21},{"s":9,"t":652,"v":20.5},{"s":9,"t":660,"v":20},{"s":9,"t":666,"v":19.5},{"s":9,"t":672,"v":19},{"s":9,"t":678,"v":17.5},{"s":9,"t":684,"v":14},{"s":9,"t":688,"v":11.5},{"s":9,"t":692,"v":10},{"s":9,"t":696,"v":9},{"s":9,"t":700,"v":8.2},
{"s":17,"t":660,"v":17},{"s":17,"t":666,"v":19},{"s":17,"t":672,"v":20},{"s":17,"t":678,"v":21},{"s":17,"t":684,"v":22},{"s":17,"t":690,"v":23},{"s":17,"t":696,"v":21},{"s":17,"t":702,"v":20},{"s":17,"t":708,"v":23},{"s":17,"t":714,"v":24},{"s":17,"t":720,"v":22},{"s":17,"t":726,"v":20},{"s":17,"t":732,"v":22},{"s":17,"t":738,"v":20},{"s":17,"t":744,"v":18},{"s":17,"t":750,"v":16},{"s":17,"t":756,"v":17},
{"s":11,"t":650,"v":18},{"s":11,"t":656,"v":16},{"s":11,"t":662,"v":15.5},{"s":11,"t":668,"v":18},{"s":11,"t":674,"v":20},{"s":11,"t":680,"v":22},{"s":11,"t":686,"v":25},{"s":11,"t":690,"v":30},{"s":11,"t":692,"v":35},{"s":11,"t":694,"v":33},{"s":11,"t":698,"v":27},{"s":11,"t":702,"v":24},{"s":11,"t":708,"v":22},{"s":11,"t":714,"v":19},{"s":11,"t":720,"v":16},{"s":11,"t":726,"v":18},{"s":11,"t":732,"v":21},{"s":11,"t":738,"v":17},{"s":11,"t":744,"v":14},{"s":11,"t":750,"v":12},
{"s":20,"t":700,"v":18},{"s":20,"t":710,"v":20},{"s":20,"t":720,"v":17},{"s":20,"t":730,"v":15},{"s":20,"t":740,"v":14},{"s":20,"t":750,"v":12},{"s":20,"t":760,"v":11},{"s":20,"t":770,"v":10},{"s":20,"t":780,"v":12},{"s":20,"t":790,"v":11},
{"s":25,"t":760,"v":14},{"s":25,"t":770,"v":15},{"s":25,"t":780,"v":16},{"s":25,"t":790,"v":17},{"s":25,"t":800,"v":17.5},{"s":25,"t":810,"v":18},{"s":25,"t":820,"v":17},{"s":25,"t":830,"v":16.5},{"s":25,"t":840,"v":15},{"s":25,"t":850,"v":15.5},{"s":25,"t":860,"v":14.5},{"s":25,"t":870,"v":14},{"s":25,"t":880,"v":13.5},{"s":25,"t":890,"v":13},
{"s":32,"t":636,"v":12.5},{"s":32,"t":642,"v":13},{"s":32,"t":648,"v":13.8},{"s":32,"t":654,"v":14},{"s":32,"t":660,"v":14.3},{"s":32,"t":666,"v":14.8},{"s":32,"t":672,"v":15.5},{"s":32,"t":676,"v":17},{"s":32,"t":678,"v":23.5},{"s":32,"t":680,"v":21},{"s":32,"t":684,"v":24},{"s":32,"t":688,"v":27},{"s":32,"t":690,"v":28},{"s":32,"t":692,"v":32.5},{"s":32,"t":694,"v":32},{"s":32,"t":696,"v":30},{"s":32,"t":700,"v":25},{"s":32,"t":704,"v":22},{"s":32,"t":708,"v":27},{"s":32,"t":712,"v":26},{"s":32,"t":716,"v":20},{"s":32,"t":720,"v":23},{"s":32,"t":725,"v":26.5},{"s":32,"t":730,"v":24},{"s":32,"t":735,"v":21},{"s":32,"t":740,"v":18},{"s":32,"t":744,"v":16.5},{"s":32,"t":750,"v":18.5},{"s":32,"t":756,"v":19.5},{"s":32,"t":762,"v":18},{"s":32,"t":768,"v":16.5},{"s":32,"t":774,"v":15},{"s":32,"t":781,"v":14},{"s":32,"t":787,"v":13},{"s":32,"t":793,"v":12.5},{"s":32,"t":800,"v":12.2},{"s":32,"t":806,"v":11.8},{"s":32,"t":812,"v":11.5},{"s":32,"t":818,"v":11.5},{"s":32,"t":824,"v":11.2},{"s":32,"t":830,"v":11},{"s":32,"t":836,"v":10.5},{"s":32,"t":842,"v":9.6},{"s":32,"t":848,"v":9},{"s":32,"t":854,"v":8.2},{"s":32,"t":860,"v":7.5},{"s":32,"t":866,"v":6.8},{"s":32,"t":872,"v":6},
{"s":30,"t":830,"v":14},{"s":30,"t":840,"v":15},{"s":30,"t":850,"v":15.5},{"s":30,"t":860,"v":15},{"s":30,"t":870,"v":14.5},{"s":30,"t":880,"v":15},{"s":30,"t":890,"v":16},{"s":30,"t":899,"v":16.5},
{"s":31,"t":860,"v":14},{"s":31,"t":870,"v":13.5},{"s":31,"t":880,"v":14.5},{"s":31,"t":890,"v":15},{"s":31,"t":899,"v":15.5},
{"s":23,"t":820,"v":13},{"s":23,"t":830,"v":13.5},{"s":23,"t":840,"v":14},{"s":23,"t":850,"v":13},{"s":23,"t":860,"v":12.5},{"s":23,"t":870,"v":13},{"s":23,"t":880,"v":13.5},{"s":23,"t":890,"v":12.5},{"s":23,"t":899,"v":12},
{"s":10,"t":880,"v":2},{"s":10,"t":888,"v":2.5},{"s":10,"t":895,"v":3},{"s":10,"t":899,"v":3},
{"s":2,"t":870,"v":10.5},{"s":2,"t":880,"v":10},{"s":2,"t":890,"v":10.5},{"s":2,"t":899,"v":10}
]
},
"concat":[
{"width":585,"height":177,
"title":{"text":"ISACCO nya0 - NyAlesund (78.923° N, 11.925° E) - from 2011 Apr 30, 09:00 UT to 2011 Apr 30, 14:59 UT","fontSize":10.2,"dx":-27},
"layer":[
{"data":{"name":"aL"},"mark":{"type":"line","strokeWidth":2.4,"clip":true},
"encoding":{
"x":{"field":"t","type":"quantitative","scale":{"domain":[540,900],"nice":false,"zero":false},"axis":{"title":null,"values":[540,555,570,585,600,615,630,645,660,675,690,705,720,735,750,765,780,795,810,825,840,855,870,885,900],"tickCount":100,"labelExpr":"datum.value % 30 == 0 ? (datum.value < 600 ? '0' : '') + floor(datum.value/60) + ':' + (datum.value % 60 == 0 ? '00' : '30') : ''","labelAngle":-90,"labelFontSize":9.5,"labelOverlap":false,"grid":false,"tickSize":-5,"labelPadding":4}},
"y":{"field":"v","type":"quantitative","scale":{"domain":[0,0.8],"nice":false},"axis":{"title":"Sigma Phi 60s [rad]","titleX":-37,"titleBaseline":"middle","values":[0,0.1,0.2,0.3,0.4,0.5,0.6,0.7,0.8],"tickCount":100,"labelExpr":"round(datum.value*10) % 2 == 0 ? format(datum.value, '.1f') : ''","labelOverlap":false,"gridOpacity":{"condition":{"test":"round(datum.value*10) % 2 == 0 && datum.value > 0","value":1},"value":0},"tickSize":-5,"labelPadding":3}},
"color":{"field":"s","type":"nominal","scale":{"domain":[2,3,4,5,6,7,8,10,13,15,16,18,19,20,21,22,23,25,26,27,28,29,30,31],"range":["#f4a7b9","#dca878","#3d3d9e","#ec3b8d","#1b9446","#f7941d","#fcd116","#2c4fa5","#7b2b8e","#c8783a","#f8a860","#92d4ec","#df6f1f","#9a9a9a","#3c82d2","#cfcfcf","#7c0b14","#90d08b","#2ebfbd","#e8221e","#6e7c8c","#d6b3d9","#aac5e9","#40c9dd"]},"legend":null},
"detail":{"field":"g"}}},
{"data":{"name":"aP"},"mark":{"type":"point","shape":"diamond","filled":true,"size":24,"opacity":1,"clip":true},
"encoding":{"x":{"field":"t","type":"quantitative"},"y":{"field":"v","type":"quantitative"},"color":{"field":"s","type":"nominal","legend":null}}},
{"data":{"values":[{"l":"NYA0"}]},"mark":{"type":"text","font":"Liberation Serif","fontSize":46,"align":"right","baseline":"top","color":"#000"},
"encoding":{"text":{"field":"l"},"x":{"datum":897,"type":"quantitative"},"y":{"datum":0.8,"type":"quantitative"}}},
{"data":{"values":[{"l":"(a)"}]},"mark":{"type":"text","font":"Liberation Serif","fontSize":30,"align":"center","baseline":"middle","color":"#111"},
"encoding":{"text":{"field":"l"},"x":{"datum":524.6,"type":"quantitative"},"y":{"datum":-0.068,"type":"quantitative"}}}
]},
{"width":586,"height":177,
"title":{"text":"ISACCO dmc0 - Concordia a Dome C (75.1° S, 123.333° E) - from 2011 Apr 30, 09:00 UT to 2011 Apr 30, 14:59 UT","fontSize":10.1,"dx":-46},
"layer":[
{"data":{"name":"bL"},"mark":{"type":"line","strokeWidth":2.2,"clip":true},
"encoding":{
"x":{"field":"t","type":"quantitative","scale":{"domain":[540,900],"nice":false,"zero":false},"axis":{"title":null,"values":[540,555,570,585,600,615,630,645,660,675,690,705,720,735,750,765,780,795,810,825,840,855,870,885,900],"tickCount":100,"labelExpr":"datum.value % 30 == 0 ? (datum.value < 600 ? '0' : '') + floor(datum.value/60) + ':' + (datum.value % 60 == 0 ? '00' : '30') : ''","labelAngle":-90,"labelFontSize":9.5,"labelOverlap":false,"grid":false,"tickSize":-5,"labelPadding":4}},
"y":{"field":"v","type":"quantitative","scale":{"domain":[0,1],"nice":false},"axis":{"title":"Sigma Phi 60s [rad]","titleX":-35,"titleBaseline":"middle","values":[0,0.1,0.2,0.3,0.4,0.5,0.6,0.7,0.8,0.9,1],"tickCount":100,"labelExpr":"round(datum.value*10) % 2 == 0 ? format(datum.value, '.1f') : ''","labelOverlap":false,"gridOpacity":{"condition":{"test":"round(datum.value*10) % 2 == 0 && datum.value > 0","value":1},"value":0},"tickSize":-5,"labelPadding":3}},
"color":{"field":"s","type":"nominal","scale":{"domain":[2,3,4,6,9,10,11,12,13,14,15,17,18,19,20,22,23,24,25,27,28,30,31,32],"range":["#f4a7b9","#dca878","#3d3d9e","#1b9446","#ebe68f","#2c4fa5","#58c43c","#fbf7dc","#7b2b8e","#7b50b2","#c8783a","#f36b5a","#92d4ec","#df6f1f","#9a9a9a","#cfcfcf","#7c0b14","#ba70c2","#90d08b","#e8221e","#6e7c8c","#aac5e9","#40c9dd","#000000"]},"legend":null},
"detail":{"field":"g"}}},
{"data":{"name":"bP"},"mark":{"type":"point","shape":"diamond","filled":true,"size":24,"opacity":1,"clip":true},
"encoding":{"x":{"field":"t","type":"quantitative"},"y":{"field":"v","type":"quantitative"},"color":{"field":"s","type":"nominal","legend":null}}},
{"data":{"values":[{"l":"DMC0"}]},"mark":{"type":"text","font":"Liberation Serif","fontSize":46,"align":"right","baseline":"top","color":"#000"},
"encoding":{"text":{"field":"l"},"x":{"datum":899,"type":"quantitative"},"y":{"datum":1,"type":"quantitative"}}},
{"data":{"values":[{"l":"(b)"}]},"mark":{"type":"text","font":"Liberation Serif","fontSize":30,"align":"center","baseline":"middle","color":"#111"},
"encoding":{"text":{"field":"l"},"x":{"datum":527.7,"type":"quantitative"},"y":{"datum":-0.082,"type":"quantitative"}}}
]},
{"width":585,"height":177,
"title":{"text":"ISACCO nya0 - NyAlesund (78.923° N, 11.925° E) - from 2011 Apr 30, 09:00 UT to 2011 Apr 30, 14:59 UT","fontSize":10.2,"dx":-27},
"layer":[
{"data":{"name":"c"},"mark":{"type":"line","strokeWidth":3.6,"clip":true},
"encoding":{
"x":{"field":"t","type":"quantitative","scale":{"domain":[540,900],"nice":false,"zero":false},"axis":{"title":null,"values":[540,555,570,585,600,615,630,645,660,675,690,705,720,735,750,765,780,795,810,825,840,855,870,885,900],"tickCount":100,"labelExpr":"datum.value % 30 == 0 ? (datum.value < 600 ? '0' : '') + floor(datum.value/60) + ':' + (datum.value % 60 == 0 ? '00' : '30') : ''","labelAngle":-90,"labelFontSize":9.5,"labelOverlap":false,"grid":false,"tickSize":-5,"labelPadding":4}},
"y":{"field":"v","type":"quantitative","scale":{"domain":[0,35],"nice":false},"axis":{"title":"VTEC [TECU]","titleX":-37,"titleBaseline":"middle","values":[0,2.5,5,7.5,10,12.5,15,17.5,20,22.5,25,27.5,30,32.5,35],"tickCount":100,"labelExpr":"datum.value % 5 == 0 ? format(datum.value, 'd') : ''","labelOverlap":false,"gridOpacity":{"condition":{"test":"datum.value % 5 == 0 && datum.value > 0","value":1},"value":0},"tickSize":-5,"labelPadding":3,"labelFontSize":11.5}},
"color":{"field":"s","type":"nominal","scale":{"domain":[2,3,4,5,6,7,8,10,13,15,16,18,19,20,21,22,23,25,26,27,28,29,30,31],"range":["#f4a7b9","#dca878","#3d3d9e","#ec3b8d","#1b9446","#f7941d","#fcd116","#2c4fa5","#7b2b8e","#c8783a","#f8a860","#92d4ec","#df6f1f","#9a9a9a","#3c82d2","#cfcfcf","#7c0b14","#90d08b","#2ebfbd","#e8221e","#6e7c8c","#d6b3d9","#aac5e9","#40c9dd"]},"legend":{"title":"PRN:","titleOrient":"left","orient":"none","legendX":-44,"legendY":217,"direction":"horizontal","columns":24,"encode":{"symbols":{"update":{"x":{"value":16},"stroke":{"value":"#555"},"strokeWidth":{"value":1}}},"labels":{"update":{"x":{"value":11},"align":{"value":"right"}}}}}},
"detail":{"field":"g"}}},
{"data":{"name":"c"},"mark":{"type":"point","shape":"diamond","filled":true,"size":14,"opacity":1,"clip":true},
"encoding":{"x":{"field":"t","type":"quantitative"},"y":{"field":"v","type":"quantitative"},"color":{"field":"s","type":"nominal"}}},
{"data":{"values":[{"l":"(c)"}]},"mark":{"type":"text","font":"Liberation Serif","fontSize":30,"align":"center","baseline":"middle","color":"#111"},
"encoding":{"text":{"field":"l"},"x":{"datum":524.6,"type":"quantitative"},"y":{"datum":-3.36,"type":"quantitative"}}}
]},
{"width":586,"height":177,
"title":{"text":"ISACCO dmc0 - Concordia a Dome C (75.1° N, 123.333° E) - from 2011 Apr 30, 09:00 UT to 2011 Apr 30, 14:59 UT","fontSize":10.1,"dx":-46},
"layer":[
{"data":{"name":"d"},"mark":{"type":"line","strokeWidth":3.6,"clip":true},
"encoding":{
"x":{"field":"t","type":"quantitative","scale":{"domain":[540,900],"nice":false,"zero":false},"axis":{"title":null,"values":[540,555,570,585,600,615,630,645,660,675,690,705,720,735,750,765,780,795,810,825,840,855,870,885,900],"tickCount":100,"labelExpr":"datum.value % 30 == 0 ? (datum.value < 600 ? '0' : '') + floor(datum.value/60) + ':' + (datum.value % 60 == 0 ? '00' : '30') : ''","labelAngle":-90,"labelFontSize":9.5,"labelOverlap":false,"grid":false,"tickSize":-5,"labelPadding":4}},
"y":{"field":"v","type":"quantitative","scale":{"domain":[0,50],"nice":false},"axis":{"title":"VTEC [TECU]","titleX":-35,"titleBaseline":"middle","values":[0,5,10,15,20,25,30,35,40,45,50],"tickCount":100,"labelExpr":"datum.value % 10 == 0 ? format(datum.value, 'd') : ''","labelOverlap":false,"gridOpacity":{"condition":{"test":"datum.value % 10 == 0 && datum.value > 0","value":1},"value":0},"tickSize":-5,"labelPadding":3,"labelFontSize":11.5}},
"color":{"field":"s","type":"nominal","scale":{"domain":[2,3,4,6,9,10,11,12,13,14,15,17,18,19,20,22,23,24,25,27,28,30,31,32],"range":["#f4a7b9","#dca878","#3d3d9e","#1b9446","#ebe68f","#2c4fa5","#58c43c","#fbf7dc","#7b2b8e","#7b50b2","#c8783a","#f36b5a","#92d4ec","#df6f1f","#9a9a9a","#cfcfcf","#7c0b14","#ba70c2","#90d08b","#e8221e","#6e7c8c","#aac5e9","#40c9dd","#000000"]},"legend":{"title":"PRN:","titleOrient":"left","orient":"none","legendX":-41,"legendY":217,"direction":"horizontal","columns":24,"encode":{"symbols":{"update":{"x":{"value":16},"stroke":{"value":"#555"},"strokeWidth":{"value":1}}},"labels":{"update":{"x":{"value":11},"align":{"value":"right"}}}}}},
"detail":{"field":"g"}}},
{"data":{"name":"d"},"mark":{"type":"point","shape":"diamond","filled":true,"size":14,"opacity":1,"clip":true},
"encoding":{"x":{"field":"t","type":"quantitative"},"y":{"field":"v","type":"quantitative"},"color":{"field":"s","type":"nominal"}}},
{"data":{"values":[{"l":"(d)"}]},"mark":{"type":"text","font":"Liberation Serif","fontSize":30,"align":"center","baseline":"middle","color":"#111"},
"encoding":{"text":{"field":"l"},"x":{"datum":527.7,"type":"quantitative"},"y":{"datum":-4.8,"type":"quantitative"}}}
]}
],
"columns":2,
"spacing":{"row":61,"column":54},
"bounds":"flush",
"resolve":{"scale":{"color":"independent"}}
}
